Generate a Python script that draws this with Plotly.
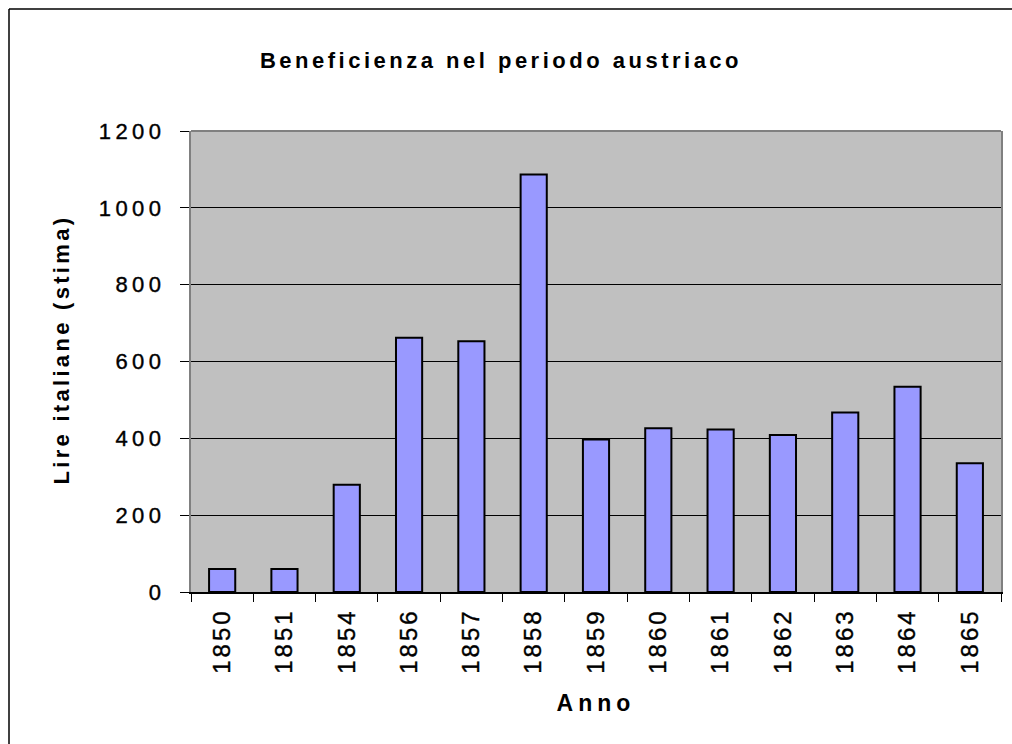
import plotly.graph_objects as go

# Data
years = ["1850", "1851", "1854", "1856", "1857", "1858", "1859",
         "1860", "1861", "1862", "1863", "1864", "1865"]
values = [60, 60, 279, 662, 653, 1087, 397, 426, 423, 409, 467, 534, 335]
y_ticks = [0, 200, 400, 600, 800, 1000, 1200]

title_text = "Beneficienza nel periodo austriaco"
x_title = "Anno"
y_title = "Lire italiane (stima)"

FONT = "Liberation Sans, Arial, sans-serif"


def spaced(text, px, stroke=0.0):
    st = f"letter-spacing:{px}px"
    if stroke:
        st += f";stroke:black;stroke-width:{stroke}px"
    return f"<span style='{st}'>{text}</span>"


W, H = 1012, 744
ML, MR, MT, MB = 191, 11, 131, 152
PW, PH = W - ML - MR, H - MT - MB

fig = go.Figure(
    go.Bar(
        x=years,
        y=values,
        marker=dict(color="#9999FF", line=dict(color="black", width=2)),
        showlegend=False,
    )
)

fig.update_layout(
    width=W,
    height=H,
    margin=dict(l=ML, r=MR, t=MT, b=MB, autoexpand=False),
    paper_bgcolor="white",
    plot_bgcolor="#C0C0C0",
    bargap=0.58,
    font=dict(family=FONT, color="black"),
    title=dict(
        text="<b>" + spaced(title_text, 3.5) + "</b>",
        font=dict(size=22, family=FONT, color="black"),
        x=501 / W,
        xref="container",
        xanchor="center",
        y=1 - 60.5 / H,
        yref="container",
        yanchor="middle",
    ),
)

fig.update_xaxes(
    type="category",
    tickmode="array",
    tickvals=years,
    ticktext=[spaced(y, 3, 0.4) for y in years],
    tickangle=-90,
    tickfont=dict(size=24, family=FONT, color="black"),
    ticks="outside",
    ticklen=8,
    tickcolor="black",
    tickson="boundaries",
    ticklabelstandoff=5,
    showline=True,
    linecolor="black",
    linewidth=1.5,
    showgrid=False,
    title=dict(
        text="<b>" + spaced(x_title, 5) + "</b>",
        font=dict(size=23, family=FONT, color="black"),
        standoff=22,
    ),
)

fig.update_yaxes(
    range=[0, 1200],
    tickmode="array",
    tickvals=y_ticks,
    ticktext=[spaced(str(v), 4.5, 0.4) for v in y_ticks],
    tickfont=dict(size=22, family=FONT, color="black"),
    ticks="outside",
    ticklen=9,
    tickcolor="black",
    ticklabelstandoff=10,
    showline=True,
    linecolor="#808080",
    linewidth=2,
    mirror=True,
    showgrid=True,
    gridcolor="black",
    gridwidth=1,
    zeroline=False,
)

# y-axis title placed as an annotation (slightly above the plot centre, as in the reference)
fig.add_annotation(
    text="<b>" + spaced(y_title, 3.3) + "</b>",
    font=dict(size=22, family=FONT, color="black"),
    textangle=-90,
    xref="paper", yref="paper",
    x=(60.5 - ML) / PW,
    y=(MT + PH - 350) / PH,
    xanchor="center", yanchor="middle",
    showarrow=False,
)

# top border of plot area (grey)
fig.add_shape(type="line", xref="paper", yref="paper", x0=0, x1=1, y0=1, y1=1,
              line=dict(color="#808080", width=2), layer="above")

# outer chart frame: only its left and top edges are visible in the picture
fx = (9 - ML) / PW
fy = (MT + PH - 9) / PH
fig.add_shape(type="line", xref="paper", yref="paper",
              x0=fx, x1=fx, y0=-MB / PH, y1=fy,
              line=dict(color="black", width=1.5), layer="above")
fig.add_shape(type="line", xref="paper", yref="paper",
              x0=fx, x1=(W - ML) / PW, y0=fy, y1=fy,
              line=dict(color="black", width=1.5), layer="above")

fig.write_html(
    "out.html",
    config={"displayModeBar": False},
    post_script="document.body.style.margin='0';document.body.style.overflow='hidden';",
)
